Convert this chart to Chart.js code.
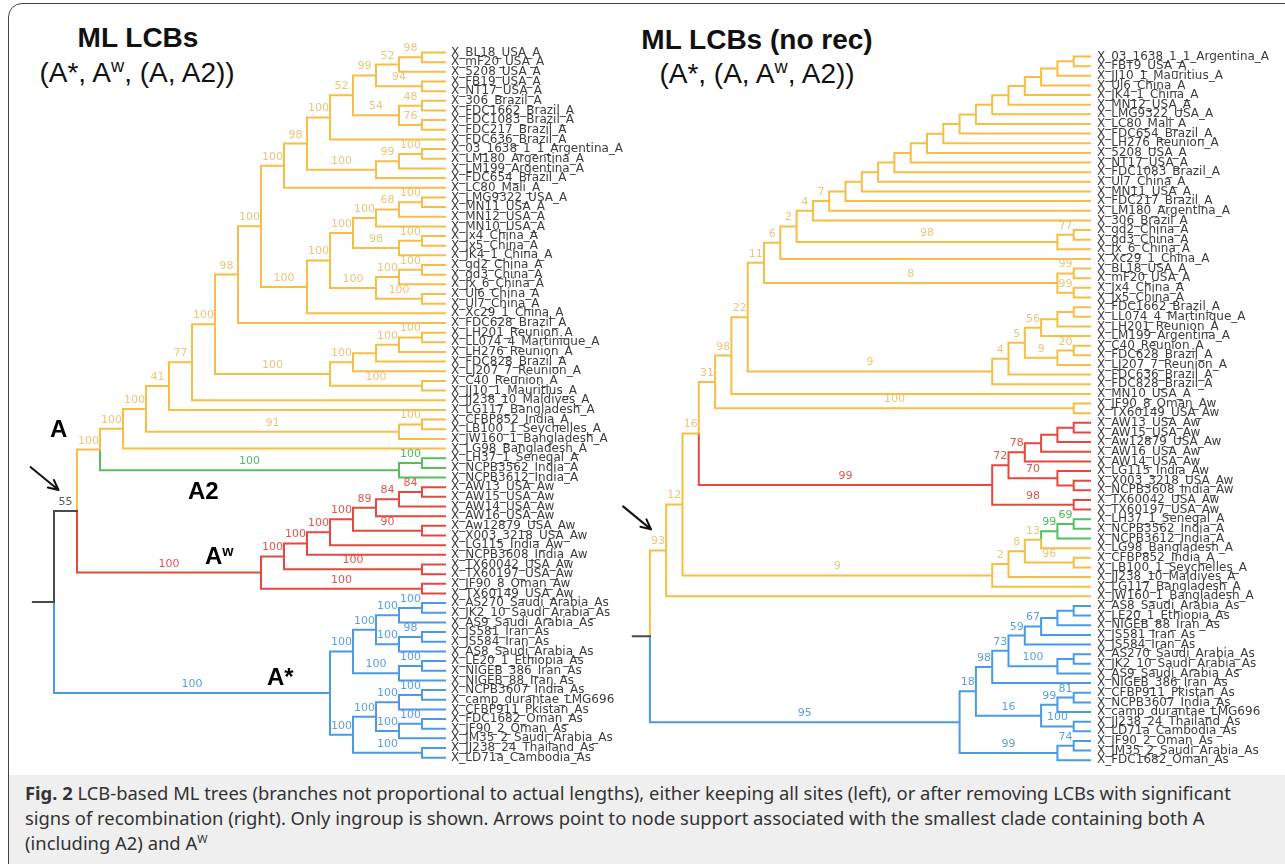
<!DOCTYPE html>
<html>
<head>
<meta charset="utf-8">
<title>Fig. 2 LCB-based ML trees</title>
<script src="https://cdn.jsdelivr.net/npm/chart.js@4.4.1/dist/chart.umd.min.js"></script>
<style>
  html, body { margin:0; padding:0; background:#fff; }
  #fig { position:relative; width:1285px; height:864px; overflow:hidden; background:#fff; font-family:"Liberation Sans", Arial, sans-serif; }
  #capband { position:absolute; left:9px; top:775px; width:1300px; height:120px; background:#efefef; }
  #frame { position:absolute; left:8px; top:3px; width:1300px; height:900px; border:1.5px solid #444; border-radius:14px; box-sizing:border-box; }
  .title { position:absolute; color:#111; font-size:28px; white-space:nowrap; transform:translateX(-50%); line-height:1; }
  .bold { font-weight:bold; }
  .sup { font-size:0.65em; position:relative; top:-0.55em; }
  .clade { position:absolute; font-weight:bold; font-size:24px; color:#000; line-height:1; white-space:nowrap; }
  .clade .sup { font-size:0.6em; }
  .chartbox { position:absolute; top:0; }
  #caption { position:absolute; left:25px; top:780px; font-family:"Noto Sans", sans-serif; font-size:18.4px; line-height:25px; color:#333; white-space:nowrap; }
  #caption .sup { font-size:0.6em; top:-0.6em; }
</style>
</head>
<body>
<div id="fig">
  <div id="capband"></div>
  <div id="frame"></div>

  <div class="title bold" style="left:138px; top:24px;">ML LCBs</div>
  <div class="title" style="left:137px; top:59px;">(A*, A<span class="sup">w</span>, (A, A2))</div>
  <div class="title bold" style="left:757px; top:26px;">ML LCBs (no rec)</div>
  <div class="title" style="left:757px; top:60px;">(A*, (A, A<span class="sup">w</span>, A2))</div>

  <div class="chartbox" style="left:0px; width:660px; height:775px;"><canvas id="leftChart" width="660" height="775"></canvas></div>
  <div class="chartbox" style="left:620px; width:665px; height:775px;"><canvas id="rightChart" width="665" height="775"></canvas></div>

  <div class="clade" style="left:50px; top:417px;">A</div>
  <div class="clade" style="left:188px; top:479px;">A2</div>
  <div class="clade" style="left:205px; top:544px;">A<span class="sup">w</span></div>
  <div class="clade" style="left:267px; top:665px;">A*</div>

  <div id="caption"><b>Fig. 2</b> LCB-based ML trees (branches not proportional to actual lengths), either keeping all sites (left), or after removing LCBs with significant<br>signs of recombination (right). Only ingroup is shown. Arrows point to node support associated with the smallest clade containing both A<br>(including A2) and A<span class="sup">W</span></div>
</div>

<script>
// ---------------- DATA ----------------
// Leaf (taxon) names, top to bottom, left tree
const leftLeaves = [
  "X_BL18_USA_A","X_mF20_USA_A","X_5208_USA_A","X_FB19_USA_A","X_NT17_USA_A","X_306_Brazil_A",
  "X_FDC1662_Brazil_A","X_FDC1083_Brazil_A","X_FDC217_Brazil_A","X_FDC636_Brazil_A",
  "X_03_1638_1_1_Argentina_A","X_LM180_Argentina_A","X_LM199_Argentina_A","X_FDC654_Brazil_A",
  "X_LC80_Mali_A","X_LMG9322_USA_A","X_MN11_USA_A","X_MN12_USA_A","X_MN10_USA_A",
  "X_Jx4_China_A","X_Jx5_China_A","X_JK4_1_China_A","X_gd2_China_A","X_gd3_China_A",
  "X_Jx_6_China_A","X_Ul6_China_A","X_Ul7_China_A","X_Xc29_1_China_A","X_FDC628_Brazil_A",
  "X_LH201_Reunion_A","X_LL074_4_Martinique_A","X_LH276_Reunion_A","X_FDC828_Brazil_A",
  "X_LJ207_7_Reunion_A","X_C40_Reunion_A","X_JJ10_1_Mauritius_A","X_JJ238_10_Maldives_A",
  "X_LG117_Bangladesh_A","X_CFBP852_India_A","X_LB100_1_Seychelles_A","X_JW160_1_Bangladesh_A",
  "X_LG98_Bangladesh_A","X_LH37_1_Senegal_A","X_NCPB3562_India_A","X_NCPB3612_India_A",
  "X_AW13_USA_Aw","X_AW15_USA_Aw","X_AW14_USA_Aw","X_AW16_USA_Aw","X_Aw12879_USA_Aw",
  "X_X003_3218_USA_Aw","X_LG115_India_Aw","X_NCPB3608_India_Aw","X_TX60042_USA_Aw",
  "X_TX60197_USA_Aw","X_JF90_8_Oman_Aw","X_TX60149_USA_Aw",
  "X_AS270_Saudi_Arabia_As","X_JK2_10_Saudi_Arabia_As","X_AS9_Saudi_Arabia_As","X_JS581_Iran_As",
  "X_JS584_Iran_As","X_AS8_Saudi_Arabia_As","X_LE20_1_Ethiopia_As","X_NIGEB_386_Iran_As",
  "X_NIGEB_88_Iran_As","X_NCPB3607_India_As","X_camp_durantae_LMG696","X_CFBP911_Pkistan_As",
  "X_FDC1682_Oman_As","X_JF90_2_Oman_As","X_JM35_2_Saudi_Arabia_As","X_JJ238_24_Thailand_As",
  "X_LD71a_Cambodia_As"
];

// Leaf (taxon) names, top to bottom, right tree
const rightLeaves = [
  "X_03_1638_1_1_Argentina_A","X_FBT9_USA_A","X_JJ10_1_Mauritius_A","X_Ul6_China_A","X_JK4_1_China_A",
  "X_MN12_USA_A","X_LMG9322_USA_A","X_LC80_Mali_A","X_FDC654_Brazil_A","X_LH276_Reunion_A",
  "X_5208_USA_A","X_NT17_USA_A","X_FDC1083_Brazil_A","X_Ul7_China_A","X_MN11_USA_A",
  "X_FDC217_Brazil_A","X_LM180_Argentina_A","X_306_Brazil_A","X_gd2_China_A","X_gd3_China_A",
  "X_Jx_6_China_A","X_Xc29_1_China_A","X_BL18_USA_A","X_mF20_USA_A","X_Jx4_China_A","X_Jx5_China_A",
  "X_FDC1662_Brazil_A","X_LL074_4_Martinique_A","X_LH201_Reunion_A","X_LM199_Argentina_A",
  "X_C40_Reunion_A","X_FDC628_Brazil_A","X_LJ207_7_Reunion_A","X_FDC636_Brazil_A","X_FDC828_Brazil_A",
  "X_MN10_USA_A","X_JF90_8_Oman_Aw","X_TX60149_USA_Aw","X_AW13_USA_Aw","X_AW15_USA_Aw",
  "X_Aw12879_USA_Aw","X_AW16_USA_Aw","X_AW14_USA_Aw","X_LG115_India_Aw","X_X003_3218_USA_Aw",
  "X_NCPB3608_India_Aw","X_TX60042_USA_Aw","X_TX60197_USA_Aw","X_LH37_1_Senegal_A",
  "X_NCPB3562_India_A","X_NCPB3612_India_A","X_LG98_Bangladesh_A","X_CFBP852_India_A",
  "X_LB100_1_Seychelles_A","X_JJ238_10_Maldives_A","X_LG117_Bangladesh_A","X_JW160_1_Bangladesh_A",
  "X_AS8_Saudi_Arabia_As","X_LE20_1_Ethiopia_As","X_NIGEB_88_Iran_As","X_JS581_Iran_As",
  "X_JS584_Iran_As","X_AS270_Saudi_Arabia_As","X_JK2_10_Saudi_Arabia_As","X_AS9_Saudi_Arabia_As",
  "X_NIGEB_386_Iran_As","X_CFBP911_Pkistan_As","X_NCPB3607_India_As","X_camp_durantae_LMG696",
  "X_JJ238_24_Thailand_As","X_LD71a_Cambodia_As","X_JF90_2_Oman_As","X_JM35_2_Saudi_Arabia_As",
  "X_FDC1682_Oman_As"
];

// Tree topology: n(support, childA, childB, cladeTag); integers are leaf indices
const n = (s, a, b, clade) => ({ s, kids: [a, b], clade });

// ---- left tree: ML LCBs ----
const L_B   = n(100, n(52, n(99, n(52, n(98, 0, 1), 2), n(94, 3, 4)), n(54, n(48, 5, 6), n(76, 7, 8))), 9);
const L_C   = n(100, n(99, n(100, 10, 11), 12), 13);
const L_283 = n(100, n(98, L_B, L_C), 14);
const L_E   = n(100, n(68, n(100, 15, 16), 17), 18);
const L_F   = n(98, n(100, 19, 20), 21);
const L_G   = n(100, n(100, n(100, 22, 23), 24), n(100, 25, 26));
const L_307 = n(100, n(100, n(100, L_E, L_F), L_G), 27);
const L_238 = n(98, n(100, L_283, L_307), 28);
const L_Q   = n(100, n(100, n(null, n(100, n(100, 29, 30), 31), 32), 33), n(100, 34, 35));
const L_147 = n(100, n(41, n(77, n(100, L_238, L_Q), 36), 37), n(91, n(100, 38, 39), 40));
const L_AA2 = n(100, n(100, L_147, 41), n(100, n(100, 42, 43), 44, 'A2'), 'A');
const L_Aw  = n(100, n(100, n(100, n(100, n(100, n(89, n(84, n(84, 45, 46), 47), 48), n(90, 49, 50)), 51), 52), n(100, 53, 54)), n(100, 55, 56), 'Aw');
const L_As  = n(100,
  n(100, n(100, n(100, n(100, 57, 58), 59), n(100, n(98, 60, 61), 62)), n(100, n(100, 63, 64), 65)),
  n(100, n(100, n(100, n(100, 66, 67), 68), n(100, n(100, 69, 70), 71)), n(100, 72, 73)), 'As');
const leftTree = n(null, n(55, L_AA2, L_Aw), L_As, 'root');

// ---- right tree: ML LCBs (no rec) ----
const R_lad = n(4, n(7,
  n(null, n(null, n(null, n(null, n(null, n(null, n(null, n(null, n(null, n(null, n(null, n(null, n(null, n(null, n(null,
    0, 1), 2), 3), 4), 5), 6), 7), 8), 9), 10), 11), 12), 13), 14), 15), 16), 17);
const R_98c = n(98, n(77, 18, 19), 20);
const R_8c  = n(8, n(99, 22, 23), n(99, 24, 25));
const R_9c  = n(9, n(4, n(5, n(56, n(null, n(null, 26, 27), 28), 29), n(9, n(20, 30, 31), 32)), 33), 34);
const R_22  = n(22, n(11, n(6, n(2, R_lad, R_98c), 21), R_8c), R_9c);
const R_31  = n(31, n(98, R_22, 35), n(100, 36, 37));
const R_Aw  = n(99, n(72, n(78, n(null, n(null, n(null, 38, 39), 40), 41), 42), n(70, 43, n(null, 44, 45))), n(98, 46, 47), 'Aw');
const R_9b  = n(9, n(2, n(8, n(13, n(99, n(69, 48, 49), 50, 'A2'), 51), n(96, 52, 53)), 54), 55);
const R_93  = n(93, n(12, n(16, R_31, R_Aw), R_9b), 56, 'A');
const R_As  = n(95,
  n(18, n(98, n(73, n(59, n(67, n(null, n(null, 57, 58), 59), 60), 61), n(100, n(null, 62, 63), 64)), 65),
        n(16, n(99, n(81, 66, 67), 68), n(100, 69, 70))),
  n(99, n(74, 71, 72), 73), 'As');
const rightTree = n(null, R_93, R_As, 'root');

// ---------------- STYLE ----------------
const branchColors = { root:'#4a4a4a', A:'#F5BE45', A2:'#55BE60', Aw:'#E8463F', As:'#4B9AE3' };
const labelColors  = { root:'#5a5a5a', A:'#E8C67C', A2:'#4DBA5B', Aw:'#E05550', As:'#5A9FE2' };

// ---------------- LAYOUT (cladogram: leaves aligned, node depth = subtree height) ----------------
function layoutTree(tree) {
  const leaves = [], inner = [];
  function walk(node, parent, color) {
    if (typeof node === 'number') {
      const lf = { i: node, x: 0, y: node, h: 0, parent, color };
      leaves.push(lf);
      return lf;
    }
    const c = node.clade || color;
    const me = { s: node.s, parent, color: c };
    me.kids = node.kids.map(k => walk(k, me, c));
    me.h = Math.max(...me.kids.map(k => k.h)) + 1;
    me.x = -me.h;
    me.y = (me.kids[0].y + me.kids[me.kids.length - 1].y) / 2;
    inner.push(me);
    return me;
  }
  const root = walk(tree, null, 'root');
  return { leaves, inner, root };
}

function buildDatasets(lay, stub) {
  const byColor = {};
  const add = (c, pts) => { (byColor[c] = byColor[c] || []).push(...pts, { x: null, y: null }); };
  add('root', [{ x: lay.root.x - stub, y: lay.root.y }, { x: lay.root.x, y: lay.root.y }]);
  lay.inner.forEach(p => p.kids.forEach(k =>
    add(k.color, [{ x: p.x, y: p.y }, { x: p.x, y: k.y }, { x: k.x, y: k.y }])));
  return ['root', 'As', 'A', 'A2', 'Aw'].filter(c => byColor[c]).map(c => ({
    label: c, data: byColor[c], showLine: true, spanGaps: false,
    borderColor: branchColors[c], borderWidth: 2, pointRadius: 0, pointHoverRadius: 0,
    borderJoinStyle: 'miter', borderCapStyle: 'square', tension: 0
  }));
}

const treeText = {
  id: 'treeText',
  afterDatasetsDraw(chart) {
    const T = chart.options.plugins.treeText;
    const { ctx } = chart; const sx = chart.scales.x, sy = chart.scales.y;
    ctx.save();
    // leaf labels
    ctx.font = '12px "DejaVu Sans"'; ctx.fillStyle = '#3c3c3c';
    ctx.textAlign = 'left'; ctx.textBaseline = 'middle';
    T.lay.leaves.forEach(l => ctx.fillText(T.names[l.i], sx.getPixelForValue(0) + T.gap, sy.getPixelForValue(l.y)));
    // support values, centred above the branch leading to each node
    ctx.font = '11px "DejaVu Sans"'; ctx.textAlign = 'center'; ctx.textBaseline = 'alphabetic';
    T.lay.inner.forEach(nd => {
      if (nd.s == null || !nd.parent) return;
      const px = (sx.getPixelForValue(nd.parent.x) + sx.getPixelForValue(nd.x)) / 2;
      ctx.fillStyle = labelColors[nd.color];
      ctx.fillText(String(nd.s), px, sy.getPixelForValue(nd.y) - 6);
    });
    // arrow to the support of the smallest clade containing A and Aw
    const an = T.lay.root.kids[0];
    const ax = (sx.getPixelForValue(an.parent.x) + sx.getPixelForValue(an.x)) / 2 - 7;
    const ay = sy.getPixelForValue(an.y) - 21;
    const tx = ax - 28, ty = ay - 23;
    const ang = Math.atan2(ay - ty, ax - tx);
    ctx.strokeStyle = '#111'; ctx.lineWidth = 2; ctx.lineCap = 'round';
    ctx.beginPath(); ctx.moveTo(tx, ty); ctx.lineTo(ax, ay);
    ctx.moveTo(ax, ay); ctx.lineTo(ax - 11 * Math.cos(ang - 0.45), ay - 11 * Math.sin(ang - 0.45));
    ctx.moveTo(ax, ay); ctx.lineTo(ax - 11 * Math.cos(ang + 0.45), ay - 11 * Math.sin(ang + 0.45));
    ctx.stroke();
    ctx.restore();
  }
};

function drawTree(canvasId, tree, names, geom) {
  const lay = layoutTree(tree);
  const W = geom.width, H = geom.height;
  const xmin = -geom.tipPx / geom.step, xmax = xmin + W / geom.step;
  const ymin = -geom.firstLeafPx / geom.leafStep, ymax = ymin + H / geom.leafStep;
  new Chart(document.getElementById(canvasId), {
    type: 'scatter',
    data: { datasets: buildDatasets(lay, geom.stub) },
    options: {
      responsive: false, animation: false, events: [],
      layout: { padding: 0 },
      scales: {
        x: { type: 'linear', min: xmin, max: xmax, display: false },
        y: { type: 'linear', min: ymin, max: ymax, reverse: true, display: false }
      },
      plugins: { legend: { display: false }, tooltip: { enabled: false },
                 treeText: { lay, names, gap: geom.gap } }
    },
    plugins: [treeText]
  });
}

drawTree('leftChart', leftTree, leftLeaves,
  { width: 660, height: 775, tipPx: 445, step: 23, firstLeafPx: 52.5, leafStep: 9.66, stub: 0.92, gap: 6 });
drawTree('rightChart', rightTree, rightLeaves,
  { width: 665, height: 775, tipPx: 470, step: 16.3, firstLeafPx: 56.5, leafStep: 9.64, stub: 1.05, gap: 7 });
</script>
</body>
</html>
